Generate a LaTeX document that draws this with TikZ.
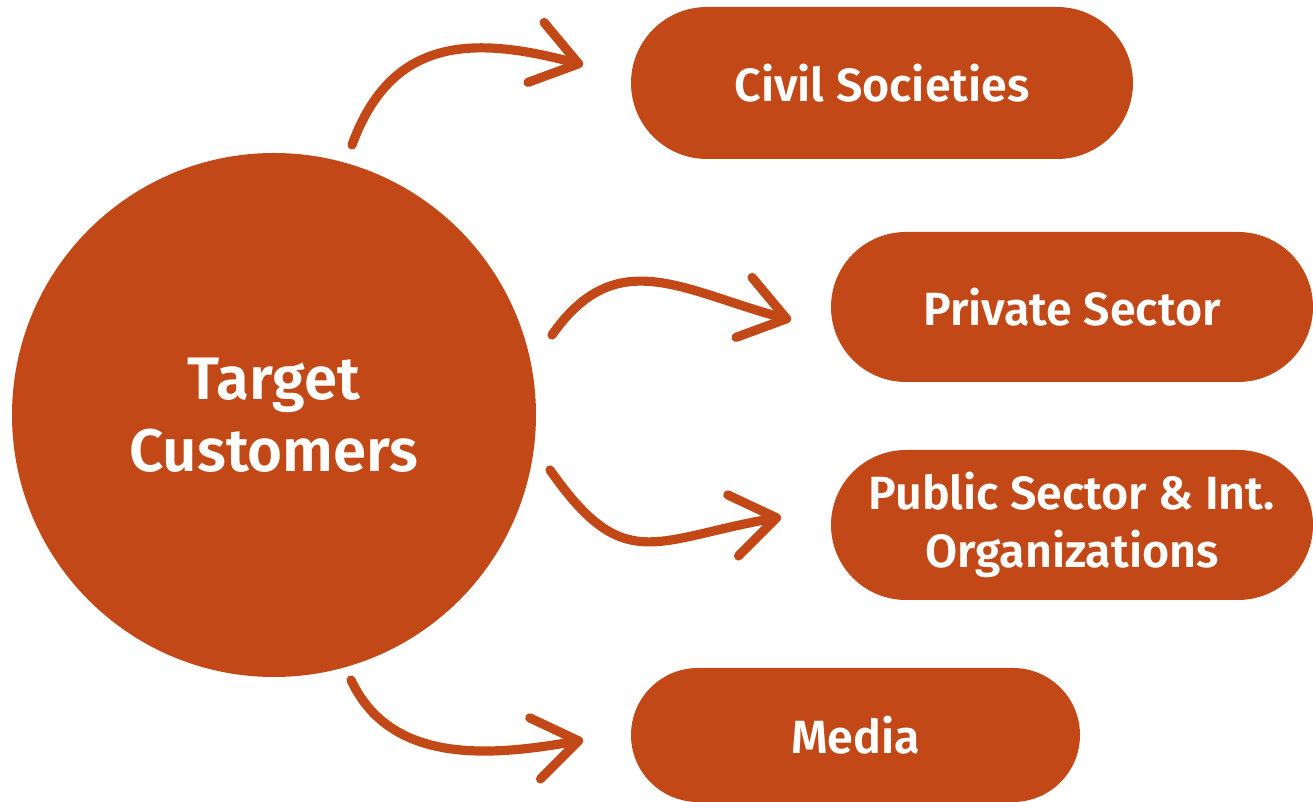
\documentclass[tikz,border=0pt]{standalone}
\usepackage{fontspec}
\setmainfont{Fira Sans}[BoldFont={* SemiBold}]
\usetikzlibrary{shapes.misc,arrows.meta}
\definecolor{rust}{RGB}{194,73,23}
\tikzset{
        pill/.style={rounded rectangle, fill=rust, text=white, align=center, inner sep=0pt,
                font=\bfseries\fontsize{23.3}{29}\selectfont},
        curvy/.style={rust, line width=4.6pt, line cap=round,
                -{Straight Barb[length=22pt,width=31pt,line cap=round,line join=round]}}
    }
\begin{document}
\begin{tikzpicture}[x=0.5pt,y=0.5pt]
\useasboundingbox (0,0) rectangle (1313,802);
\node(TC)[circle, fill=rust, text=white, minimum size=262pt, inner sep=0pt, align=center,
font=\bfseries\fontsize{30}{36}\selectfont] at (274,387) {Target\\Customers};
\node(CS)[pill, minimum width=251pt, minimum height=76pt] at (882,719) {Civil Societies};
\node(PS)[pill, minimum width=241pt, minimum height=75pt] at (1072,495) {Private Sector};
\node(PU)[pill, minimum width=241pt, minimum height=75pt] at (1072,277) {Public Sector \& Int.\\Organizations};
\node(ME)[pill, minimum width=224.5pt, minimum height=67pt] at (855.5,67) {Media};
\coordinate (CSout) at (352,657);
\coordinate (CSin) at (583,737);
\coordinate (PSout) at (552,467);
\coordinate (PSin) at (791,482);
\coordinate (PUout) at (550,332);
\coordinate (PUin) at (781,285);
\coordinate (MEout) at (351,122);
\coordinate (MEin) at (583,62);
\draw[curvy] (CSout) to[out=70,in=165,looseness=1.2] (CSin);
\draw[curvy] (PSout) to[out=55,in=165,looseness=1.2] (PSin);
\draw[curvy] (PUout) to[out=-55,in=190,looseness=1.4] (PUin);
\draw[curvy] (MEout) to[out=-65,in=190] (MEin);
\end{tikzpicture}
\end{document}
